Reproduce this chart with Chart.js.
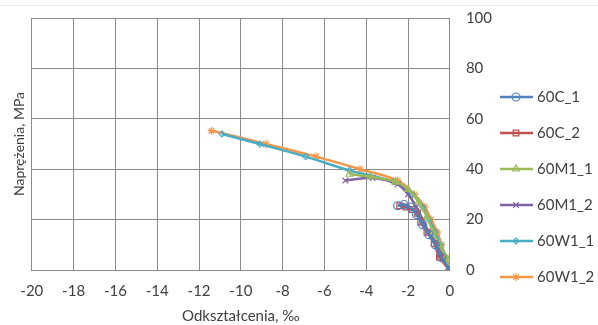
<!DOCTYPE html>
<html>
<head>
<meta charset="utf-8">
<script src="https://cdn.jsdelivr.net/npm/chart.js@4/dist/chart.umd.min.js"></script>
<style>
  html, body { margin: 0; padding: 0; background: #fff; }
  #wrap { position: relative; width: 598px; height: 325px; }
  #topline { position: absolute; left: 0; right: 0; top: 5px; height: 1px; background: #e3f1df; }
</style>
</head>
<body>
<div id="wrap">
  <div id="topline"></div>
  <canvas id="chart" width="598" height="325"></canvas>
</div>
<script>
// series names
var seriesNames = ['60C_1', '60C_2', '60M1_1', '60M1_2', '60W1_1', '60W1_2'];

// strain values (x), permille
var c1X  = [-2.5, -2.2, -1.9, -1.6, -1.3, -1.0, -0.7, -0.4, 0];
var c2X  = [-2.4, -2.1, -1.8, -1.55, -1.4, -1.1, -0.75, -0.5, 0];
var m1X  = [-4.8, -3.8, -2.6, -2.0, -1.5, -1.1, -0.8, -0.5, -0.2, 0];
var m2X  = [-5.0, -3.7, -2.5, -2.0, -1.6, -1.3, -1.0, -0.6, -0.3, 0];
var w1X  = [-10.9, -9.1, -6.9, -4.8, -2.7, -1.8, -1.3, -1.0, -0.7, -0.45, -0.2, 0];
var w2X  = [-11.4, -8.8, -6.4, -4.3, -2.5, -1.7, -1.2, -0.9, -0.6, -0.4, -0.2, 0];

// stress values (y), MPa
var c1Y  = [25.5, 26, 25, 22, 18, 14, 10, 5, 0];
var c2Y  = [25.5, 25, 24, 22.5, 19, 15, 10.5, 5, 0];
var m1Y  = [38, 37, 35, 32, 27, 21, 15, 10, 5, 0];
var m2Y  = [35.5, 36.5, 34, 30, 25, 20, 15, 10, 5, 0];
var w1Y  = [54, 50, 45, 39.5, 35, 30, 25, 20, 15, 10, 5, 0];
var w2Y  = [55.3, 50, 45, 40, 35.5, 30, 25, 20, 15, 10, 5, 0];

// axis ticks
var xTicks = [-20, -18, -16, -14, -12, -10, -8, -6, -4, -2, 0];
var yTicks = [0, 20, 40, 60, 80, 100];

var colors = ['#4F81BD', '#C0504D', '#9BBB59', '#8064A2', '#4BACC6', '#F79646'];
var markers = ['circle', 'rect', 'triangle', 'crossRot', 'rectRot', 'star'];
var xs = [c1X, c2X, m1X, m2X, w1X, w2X];
var ys = [c1Y, c2Y, m1Y, m2Y, w1Y, w2Y];

var FONT = 'Lato, "Open Sans", sans-serif';
var TEXT = '#404040';
var GRID = '#8c8c8c';

function toPoints(x, y) {
  var pts = [];
  for (var i = 0; i < x.length; i++) pts.push({ x: x[i], y: y[i] });
  return pts;
}

var datasets = seriesNames.map(function (name, i) {
  return {
    label: name,
    data: toPoints(xs[i], ys[i]),
    showLine: true,
    tension: 0.35,
    borderColor: colors[i],
    borderWidth: 2.5,
    pointStyle: markers[i],
    pointRadius: markers[i] === 'rectRot' ? 3 : 4,
    pointBorderWidth: 1.2,
    pointBorderColor: colors[i],
    pointBackgroundColor: 'rgba(255,255,255,0)'
  };
});

// legend drawn as line + marker like the spreadsheet original
var sideLegend = {
  id: 'sideLegend',
  afterDraw: function (chart) {
    var ctx = chart.ctx;
    var x0 = chart.width - 98;
    var yStart = chart.chartArea.top + 79;
    var step = 36;
    ctx.save();
    chart.data.datasets.forEach(function (ds, i) {
      var y = yStart + i * step;
      ctx.strokeStyle = ds.borderColor;
      ctx.lineWidth = 2.5;
      ctx.beginPath();
      ctx.moveTo(x0, y);
      ctx.lineTo(x0 + 33, y);
      ctx.stroke();
      ctx.lineWidth = 1.2;
      ctx.fillStyle = 'rgba(255,255,255,0)';
      Chart.helpers.drawPoint(ctx, { pointStyle: ds.pointStyle, radius: ds.pointRadius, rotation: 0, borderWidth: 1.2 }, x0 + 16, y);
      ctx.fillStyle = TEXT;
      ctx.font = '15px ' + FONT;
      ctx.textBaseline = 'middle';
      ctx.textAlign = 'left';
      ctx.fillText(ds.label, x0 + 37, y);
    });
    ctx.restore();
  }
};

new Chart(document.getElementById('chart').getContext('2d'), {
  type: 'scatter',
  data: { datasets: datasets },
  plugins: [sideLegend],
  options: {
    responsive: false,
    animation: false,
    layout: { padding: { top: 18, right: 106, left: 9, bottom: 0 } },
    plugins: {
      legend: { display: false },
      tooltip: { enabled: false }
    },
    scales: {
      x: {
        type: 'linear',
        min: xTicks[0],
        max: xTicks[xTicks.length - 1],
        afterBuildTicks: function (axis) { axis.ticks = xTicks.map(function (v) { return { value: v }; }); },
        grid: { color: GRID, drawTicks: true, tickLength: 12, tickColor: 'rgba(0,0,0,0)' },
        border: { color: GRID },
        ticks: { color: TEXT, font: { family: FONT, size: 15 }, padding: 0, maxRotation: 0 },
        title: { display: true, text: 'Odkształcenia, ‰', color: TEXT, font: { family: FONT, size: 15 }, padding: { top: 7, bottom: 0 } }
      },
      y: {
        position: 'right',
        min: yTicks[0],
        max: yTicks[yTicks.length - 1],
        afterBuildTicks: function (axis) { axis.ticks = yTicks.map(function (v) { return { value: v }; }); },
        grid: { color: GRID, drawTicks: true, tickLength: 16, tickColor: 'rgba(0,0,0,0)' },
        border: { color: GRID },
        ticks: { color: TEXT, font: { family: FONT, size: 15 }, padding: 0 }
      },
      yl: {
        position: 'left',
        min: 0,
        max: 100,
        grid: { display: false, drawTicks: false },
        border: { display: false },
        ticks: { display: false },
        title: { display: true, text: 'Naprężenia, MPa', color: TEXT, font: { family: FONT, size: 14 }, padding: { top: 2, bottom: 4 } }
      }
    }
  }
});
</script>
</body>
</html>
